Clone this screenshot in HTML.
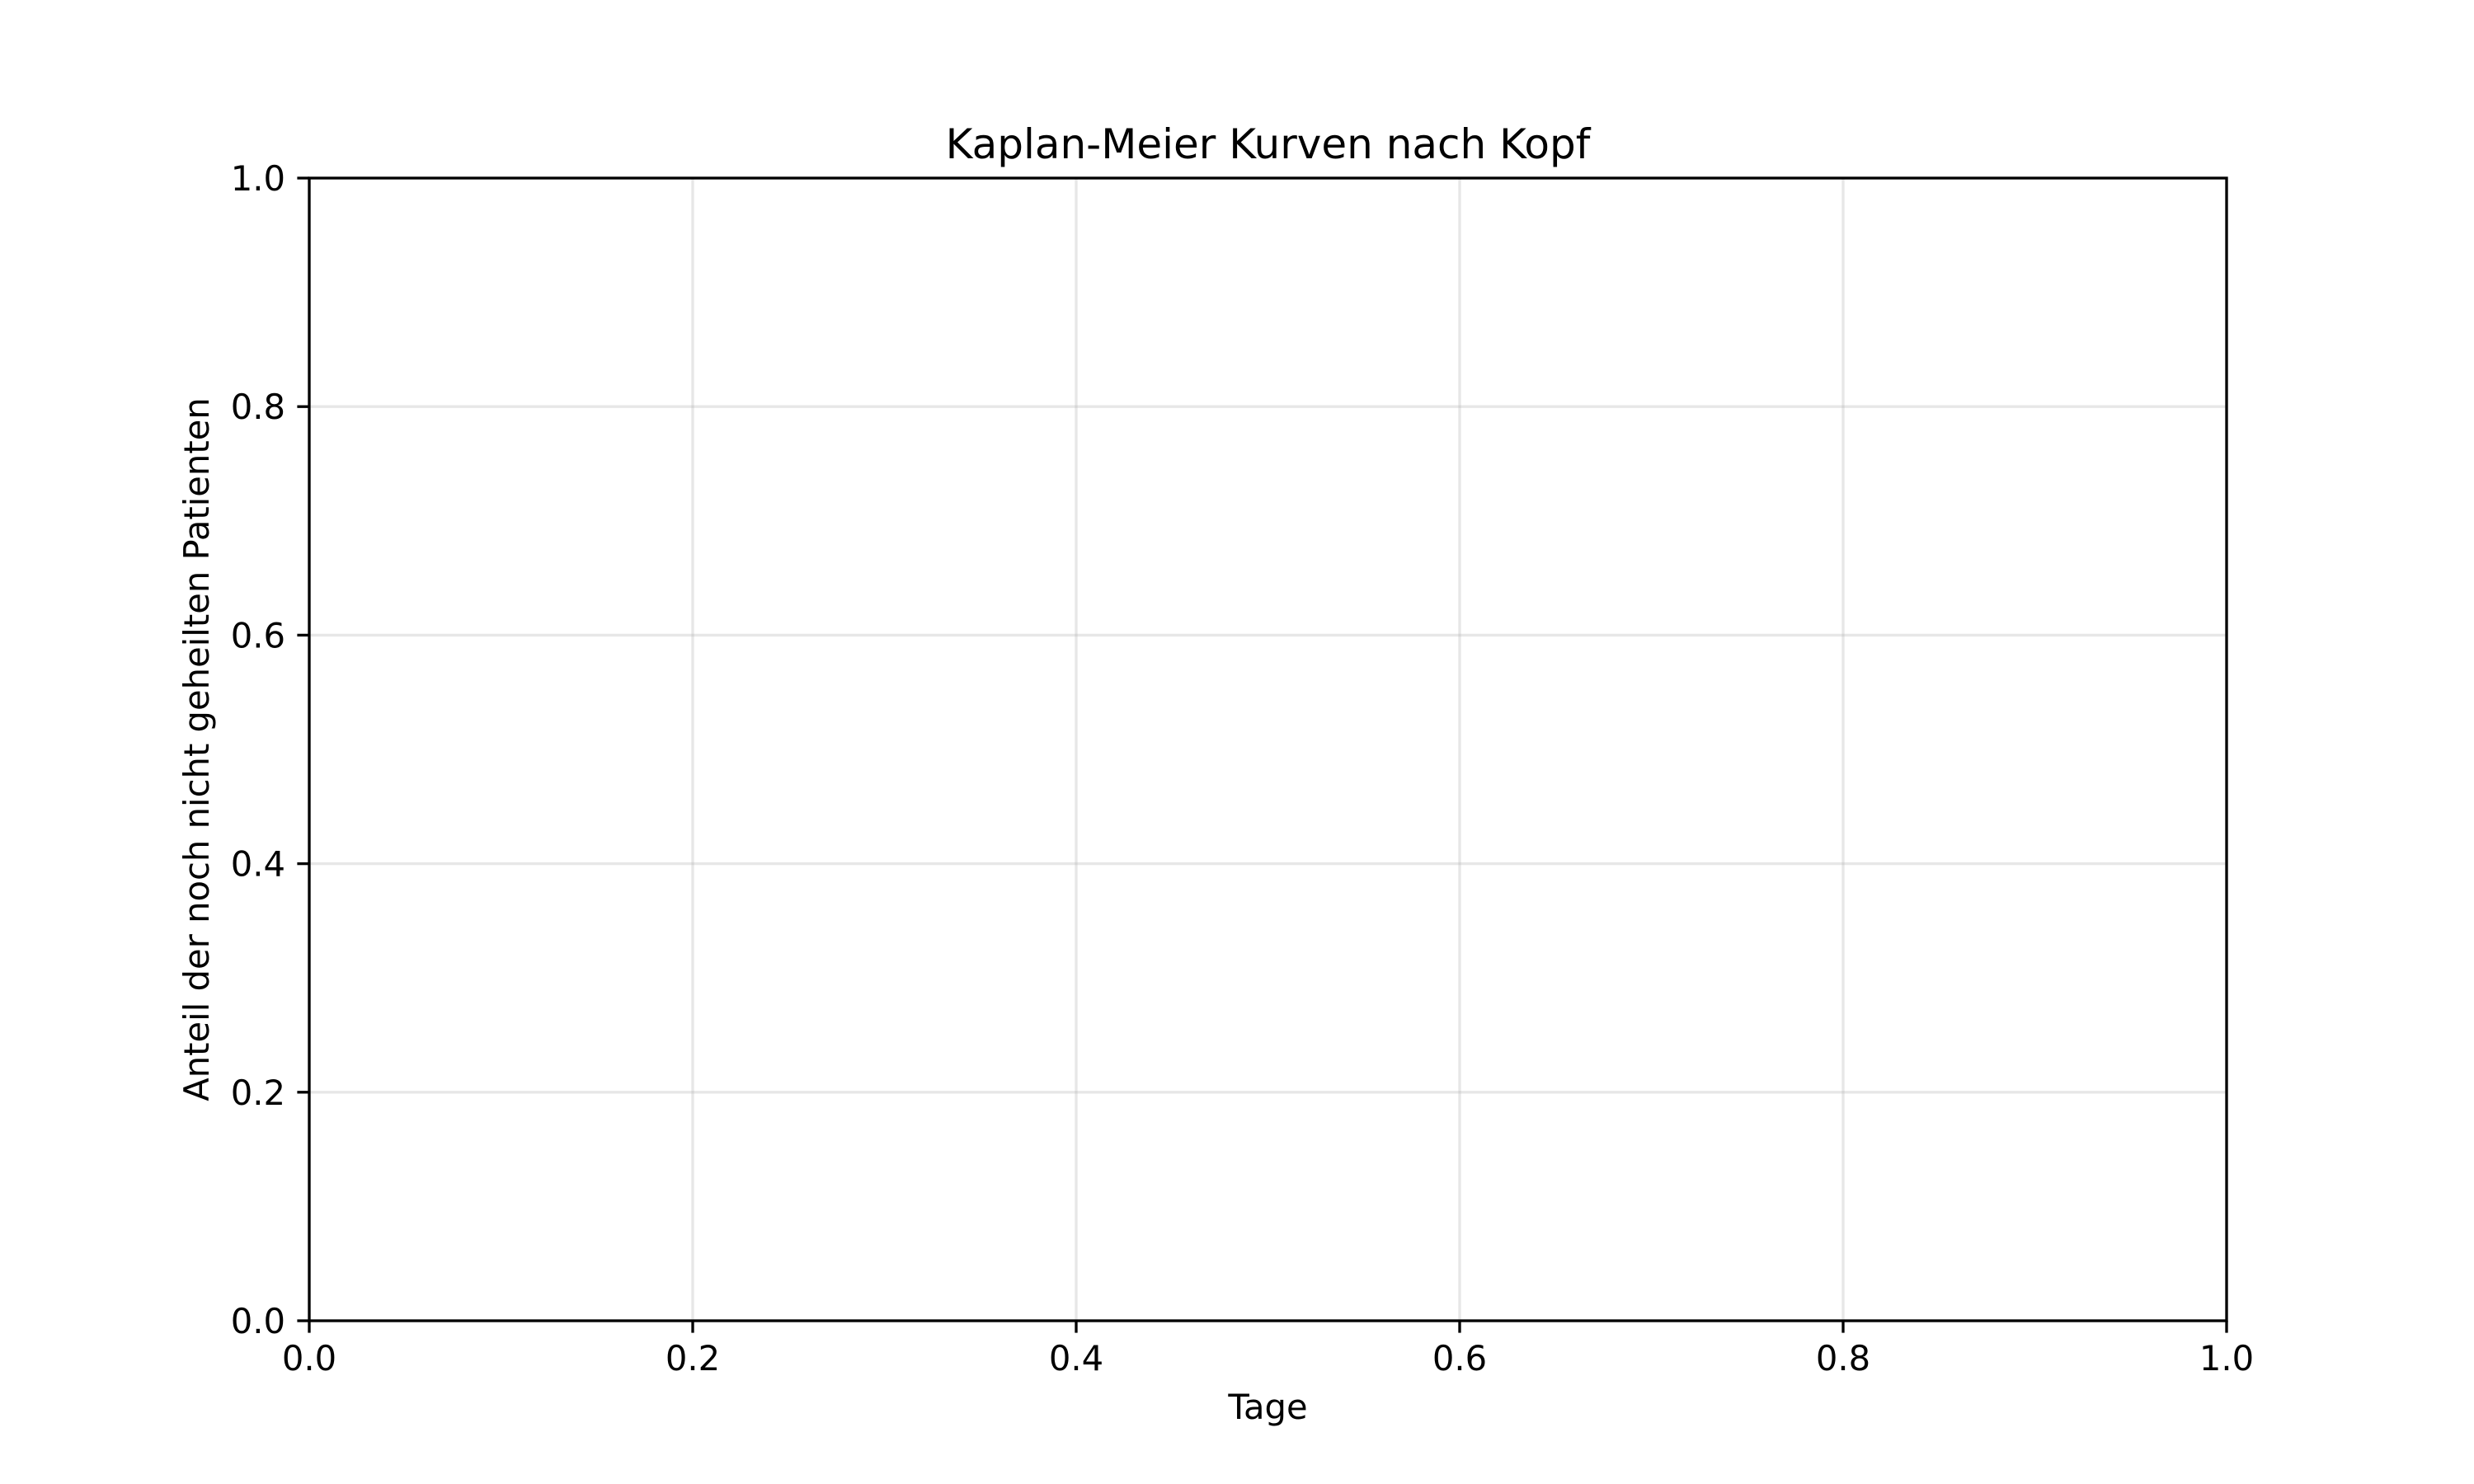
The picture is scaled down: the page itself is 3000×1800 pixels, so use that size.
<!DOCTYPE html>
<html><head><meta charset="utf-8"><style>html,body{margin:0;padding:0;background:#fff}svg{display:block}text{font-family:"DejaVu Sans","Liberation Sans",sans-serif;fill:#000}</style></head>
<body>
<svg id="chart" width="3000" height="1800" viewBox="0 0 3000 1800" xmlns="http://www.w3.org/2000/svg">
<rect width="3000" height="1800" fill="#fff"/>
<g id="grid"></g>
<g id="ticks"></g>
<rect x="375" y="216" width="2325" height="1386" fill="none" stroke="#000" stroke-width="3.33"/>
<text x="1537.5" y="192" font-size="50" text-anchor="middle">Kaplan-Meier Kurven nach Kopf</text>
<text x="1537.5" y="1721" font-size="41.7" text-anchor="middle">Tage</text>
<text x="0" y="0" font-size="41.7" text-anchor="middle" transform="translate(253,909) rotate(-90)">Anteil der noch nicht geheilten Patienten</text>
</svg>
<script>
const xTicks = [0.0, 0.2, 0.4, 0.6, 0.8, 1.0];
const yTicks = [0.0, 0.2, 0.4, 0.6, 0.8, 1.0];
const L = 375, R = 2700, T = 216, B = 1602;
const sx = v => L + v * (R - L);
const sy = v => B - v * (B - T);
const NS = 'http://www.w3.org/2000/svg';
const grid = document.getElementById('grid'), ticks = document.getElementById('ticks');
function mk(tag, attrs, parent) { const e = document.createElementNS(NS, tag); for (const k in attrs) e.setAttribute(k, attrs[k]); parent.appendChild(e); return e; }
xTicks.forEach(v => {
  const x = sx(v);
  const g = mk('line', {x1: x, x2: x, y1: T, y2: B, stroke: '#b0b0b0', 'stroke-width': 3.33, 'stroke-opacity': 0.3}, grid);
  
  
  const t = mk('line', {x1: x, x2: x, y1: B, y2: B + 14.6, stroke: '#000', 'stroke-width': 3.33}, ticks);
  
  
  const l = mk('text', {x: x, y: 1662, 'font-size': 41.7, 'text-anchor': 'middle'}, ticks);
  l.textContent = v.toFixed(1);
  
  
});
yTicks.forEach(v => {
  const y = sy(v);
  const g = mk('line', {x1: L, x2: R, y1: y, y2: y, stroke: '#b0b0b0', 'stroke-width': 3.33, 'stroke-opacity': 0.3}, grid);
  
  
  const t = mk('line', {x1: L - 14.6, x2: L, y1: y, y2: y, stroke: '#000', 'stroke-width': 3.33}, ticks);
  
  
  const l = mk('text', {x: 346, y: y + 15, 'font-size': 41.7, 'text-anchor': 'end'}, ticks);
  l.textContent = v.toFixed(1);
  
  
});
</script>
</body></html>
